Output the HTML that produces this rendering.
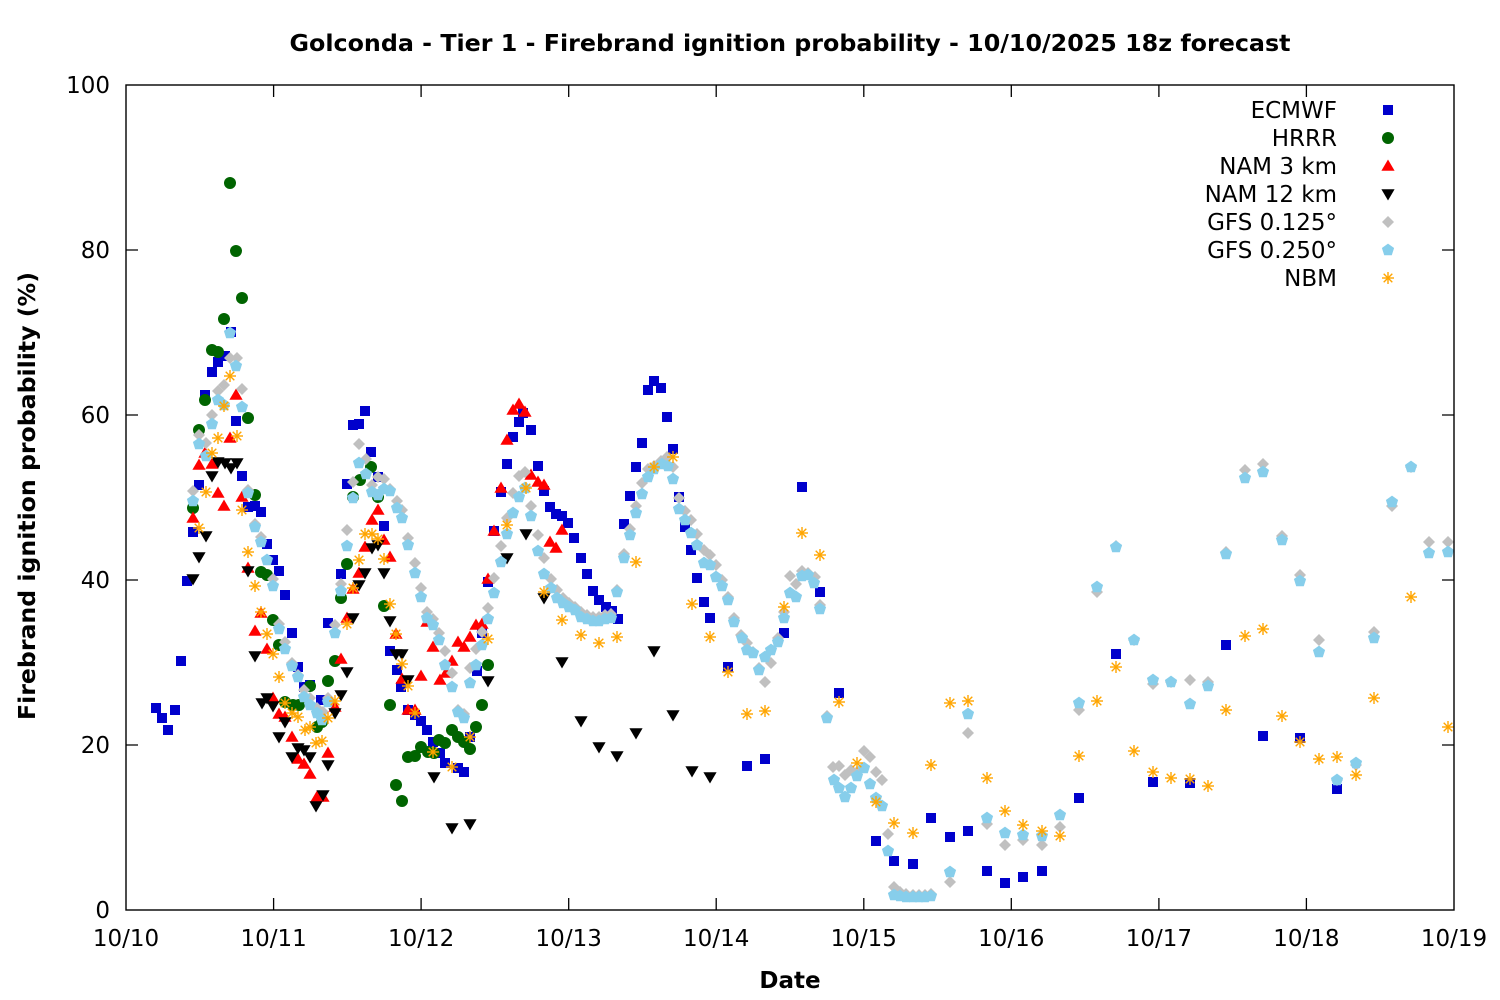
<!DOCTYPE html>
<html><head><meta charset="utf-8"><style>
html,body{margin:0;padding:0;background:#fff;}
svg{display:block;}
text{font-family:"DejaVu Sans","Liberation Sans",sans-serif;fill:#000;}
</style></head><body>
<svg width="1500" height="1000" viewBox="0 0 1500 1000" xmlns="http://www.w3.org/2000/svg">
<defs>
<rect id="e" x="-5" y="-5" width="10" height="10" fill="#0000cc"/>
<circle id="h" r="6" fill="#006400"/>
<polygon id="n" points="0,-6.5 6.6,4.8 -6.6,4.8" fill="#ff0000"/>
<polygon id="k" points="-6.6,-4.8 6.6,-4.8 0,6.5" fill="#000000"/>
<polygon id="g" points="0,-6 6,0 0,6 -6,0" fill="#c0c0c0"/>
<polygon id="s" points="0,-6.4 6.1,-2 3.8,5.2 -3.8,5.2 -6.1,-2" fill="#87ceeb"/>
<g id="b" stroke="#ffa500" stroke-width="1.4"><line x1="-6" y1="0" x2="6" y2="0"/><line x1="0" y1="-6" x2="0" y2="6"/><line x1="-4.3" y1="-4.3" x2="4.3" y2="4.3"/><line x1="-4.3" y1="4.3" x2="4.3" y2="-4.3"/></g>
</defs>
<rect width="1500" height="1000" fill="#fff"/>

<text x="790" y="51" font-size="23" font-weight="bold" text-anchor="middle" textLength="1001" lengthAdjust="spacingAndGlyphs">Golconda - Tier 1 - Firebrand ignition probability - 10/10/2025 18z forecast</text>
<text transform="translate(35,496) rotate(-90)" font-size="23" font-weight="bold" text-anchor="middle" textLength="448" lengthAdjust="spacingAndGlyphs">Firebrand ignition probability (%)</text>
<text x="790" y="988" font-size="23" font-weight="bold" text-anchor="middle">Date</text>

<g font-size="23" text-anchor="end">
<text x="110" y="918">0</text>
<text x="110" y="753">20</text>
<text x="110" y="588">40</text>
<text x="110" y="423">60</text>
<text x="110" y="258">80</text>
<text x="110" y="93">100</text>
</g>
<g font-size="23" text-anchor="middle">
<text x="126" y="946">10/10</text>
<text x="273.6" y="946">10/11</text>
<text x="421.1" y="946">10/12</text>
<text x="568.7" y="946">10/13</text>
<text x="716.2" y="946">10/14</text>
<text x="863.8" y="946">10/15</text>
<text x="1011.3" y="946">10/16</text>
<text x="1158.9" y="946">10/17</text>
<text x="1306.4" y="946">10/18</text>
<text x="1454" y="946">10/19</text>
</g>

<g stroke="#000" stroke-width="1.3" fill="none">
<path d="M126,250h12M126,415h12M126,580h12M126,745h12M1454,250h-12M1454,415h-12M1454,580h-12M1454,745h-12"/>
<path d="M273.6,910v-12M421.1,910v-12M568.7,910v-12M716.2,910v-12M863.8,910v-12M1011.3,910v-12M1158.9,910v-12M1306.4,910v-12"/>
<path d="M273.6,85v12M421.1,85v12M568.7,85v12M716.2,85v12M863.8,85v12M1011.3,85v12M1158.9,85v12M1306.4,85v12"/>
</g>

<!-- ECMWF -->
<g>
<use href="#e" x="156" y="708"/><use href="#e" x="162" y="718"/><use href="#e" x="168" y="730"/><use href="#e" x="175" y="710"/><use href="#e" x="181" y="661"/><use href="#e" x="187" y="581"/><use href="#e" x="193" y="532"/><use href="#e" x="199" y="485"/><use href="#e" x="205" y="395"/><use href="#e" x="212" y="372"/><use href="#e" x="218" y="362"/><use href="#e" x="225" y="356"/><use href="#e" x="231" y="332"/><use href="#e" x="236" y="421"/><use href="#e" x="242" y="476"/><use href="#e" x="248" y="507"/><use href="#e" x="255" y="506"/><use href="#e" x="261" y="512"/><use href="#e" x="267" y="544"/><use href="#e" x="273" y="560"/><use href="#e" x="279" y="571"/><use href="#e" x="285" y="595"/><use href="#e" x="292" y="633"/><use href="#e" x="298" y="667"/><use href="#e" x="304" y="687"/><use href="#e" x="310" y="685"/><use href="#e" x="321" y="700"/><use href="#e" x="328" y="623"/><use href="#e" x="341" y="574"/><use href="#e" x="347" y="484"/><use href="#e" x="353" y="425"/><use href="#e" x="359" y="424"/><use href="#e" x="365" y="411"/><use href="#e" x="371" y="452"/><use href="#e" x="378" y="477"/><use href="#e" x="384" y="526"/><use href="#e" x="390" y="651"/><use href="#e" x="397" y="670"/><use href="#e" x="401" y="687"/><use href="#e" x="408" y="710"/><use href="#e" x="415" y="715"/><use href="#e" x="421" y="721"/><use href="#e" x="427" y="730"/><use href="#e" x="433" y="742"/><use href="#e" x="440" y="753"/><use href="#e" x="445" y="763"/><use href="#e" x="458" y="768"/><use href="#e" x="464" y="772"/><use href="#e" x="470" y="737"/><use href="#e" x="477" y="671"/><use href="#e" x="482" y="633"/><use href="#e" x="488" y="582"/><use href="#e" x="494" y="531"/><use href="#e" x="501" y="492"/><use href="#e" x="507" y="464"/><use href="#e" x="513" y="437"/><use href="#e" x="519" y="422"/><use href="#e" x="523" y="413"/><use href="#e" x="531" y="430"/><use href="#e" x="538" y="466"/><use href="#e" x="544" y="491"/><use href="#e" x="550" y="507"/><use href="#e" x="556" y="514"/><use href="#e" x="562" y="516"/><use href="#e" x="568" y="523"/><use href="#e" x="574" y="538"/><use href="#e" x="581" y="558"/><use href="#e" x="587" y="574"/><use href="#e" x="593" y="591"/><use href="#e" x="599" y="600"/><use href="#e" x="606" y="607"/><use href="#e" x="612" y="611"/><use href="#e" x="618" y="619"/><use href="#e" x="624" y="524"/><use href="#e" x="630" y="496"/><use href="#e" x="636" y="467"/><use href="#e" x="642" y="443"/><use href="#e" x="648" y="390"/><use href="#e" x="654" y="381"/><use href="#e" x="661" y="388"/><use href="#e" x="667" y="417"/><use href="#e" x="673" y="449"/><use href="#e" x="679" y="497"/><use href="#e" x="685" y="527"/><use href="#e" x="691" y="550"/><use href="#e" x="697" y="578"/><use href="#e" x="704" y="602"/><use href="#e" x="710" y="618"/><use href="#e" x="728" y="667"/><use href="#e" x="747" y="766"/><use href="#e" x="765" y="759"/><use href="#e" x="784" y="633"/><use href="#e" x="802" y="487"/><use href="#e" x="820" y="592"/><use href="#e" x="839" y="693"/><use href="#e" x="876" y="841"/><use href="#e" x="894" y="861"/><use href="#e" x="913" y="864"/><use href="#e" x="931" y="818"/><use href="#e" x="950" y="837"/><use href="#e" x="968" y="831"/><use href="#e" x="987" y="871"/><use href="#e" x="1005" y="883"/><use href="#e" x="1023" y="877"/><use href="#e" x="1042" y="871"/><use href="#e" x="1079" y="798"/><use href="#e" x="1116" y="654"/><use href="#e" x="1153" y="782"/><use href="#e" x="1190" y="783"/><use href="#e" x="1226" y="645"/><use href="#e" x="1263" y="736"/><use href="#e" x="1300" y="738"/><use href="#e" x="1337" y="789"/>
</g>

<!-- HRRR -->
<g>
<use href="#h" x="193" y="508"/><use href="#h" x="199" y="430"/><use href="#h" x="205" y="400"/><use href="#h" x="212" y="350"/><use href="#h" x="218" y="352"/><use href="#h" x="224" y="319"/><use href="#h" x="230" y="183"/><use href="#h" x="236" y="251"/><use href="#h" x="242" y="298"/><use href="#h" x="248" y="418"/><use href="#h" x="255" y="495"/><use href="#h" x="261" y="572"/><use href="#h" x="267" y="575"/><use href="#h" x="273" y="620"/><use href="#h" x="279" y="645"/><use href="#h" x="285" y="702"/><use href="#h" x="293" y="705"/><use href="#h" x="299" y="705"/><use href="#h" x="310" y="686"/><use href="#h" x="317" y="727"/><use href="#h" x="322" y="722"/><use href="#h" x="328" y="681"/><use href="#h" x="335" y="661"/><use href="#h" x="341" y="598"/><use href="#h" x="347" y="564"/><use href="#h" x="353" y="497"/><use href="#h" x="360" y="480"/><use href="#h" x="371" y="467"/><use href="#h" x="378" y="497"/><use href="#h" x="384" y="606"/><use href="#h" x="390" y="705"/><use href="#h" x="396" y="785"/><use href="#h" x="402" y="801"/><use href="#h" x="408" y="757"/><use href="#h" x="415" y="756"/><use href="#h" x="421" y="747"/><use href="#h" x="428" y="752"/><use href="#h" x="434" y="753"/><use href="#h" x="439" y="740"/><use href="#h" x="445" y="743"/><use href="#h" x="452" y="730"/><use href="#h" x="458" y="737"/><use href="#h" x="464" y="742"/><use href="#h" x="470" y="749"/><use href="#h" x="476" y="727"/><use href="#h" x="482" y="705"/><use href="#h" x="488" y="665"/>
</g>

<!-- NAM 3 km -->
<g>
<use href="#n" x="193" y="518"/><use href="#n" x="199" y="465"/><use href="#n" x="205" y="453"/><use href="#n" x="212" y="464"/><use href="#n" x="218" y="493"/><use href="#n" x="224" y="506"/><use href="#n" x="230" y="438"/><use href="#n" x="236" y="395"/><use href="#n" x="242" y="497"/><use href="#n" x="248" y="568"/><use href="#n" x="255" y="631"/><use href="#n" x="261" y="613"/><use href="#n" x="267" y="649"/><use href="#n" x="273" y="698"/><use href="#n" x="279" y="714"/><use href="#n" x="285" y="717"/><use href="#n" x="292" y="737"/><use href="#n" x="298" y="759"/><use href="#n" x="304" y="764"/><use href="#n" x="310" y="774"/><use href="#n" x="317" y="797"/><use href="#n" x="323" y="797"/><use href="#n" x="328" y="753"/><use href="#n" x="335" y="707"/><use href="#n" x="341" y="659"/><use href="#n" x="347" y="618"/><use href="#n" x="353" y="589"/><use href="#n" x="359" y="573"/><use href="#n" x="365" y="547"/><use href="#n" x="372" y="520"/><use href="#n" x="378" y="510"/><use href="#n" x="384" y="540"/><use href="#n" x="390" y="557"/><use href="#n" x="396" y="634"/><use href="#n" x="402" y="679"/><use href="#n" x="408" y="710"/><use href="#n" x="415" y="710"/><use href="#n" x="421" y="676"/><use href="#n" x="427" y="622"/><use href="#n" x="433" y="647"/><use href="#n" x="440" y="680"/><use href="#n" x="446" y="673"/><use href="#n" x="452" y="661"/><use href="#n" x="458" y="642"/><use href="#n" x="464" y="647"/><use href="#n" x="470" y="637"/><use href="#n" x="476" y="625"/><use href="#n" x="482" y="624"/><use href="#n" x="488" y="579"/><use href="#n" x="494" y="531"/><use href="#n" x="501" y="488"/><use href="#n" x="507" y="440"/><use href="#n" x="513" y="410"/><use href="#n" x="519" y="404"/><use href="#n" x="525" y="412"/><use href="#n" x="531" y="475"/><use href="#n" x="538" y="482"/><use href="#n" x="544" y="485"/><use href="#n" x="550" y="542"/><use href="#n" x="556" y="548"/><use href="#n" x="562" y="530"/>
</g>

<!-- NAM 12 km -->
<g>
<use href="#k" x="193" y="579"/><use href="#k" x="199" y="557"/><use href="#k" x="206" y="536"/><use href="#k" x="212" y="476"/><use href="#k" x="218" y="462"/><use href="#k" x="225" y="463"/><use href="#k" x="231" y="468"/><use href="#k" x="237" y="463"/><use href="#k" x="248" y="571"/><use href="#k" x="255" y="656"/><use href="#k" x="262" y="703"/><use href="#k" x="267" y="698"/><use href="#k" x="273" y="706"/><use href="#k" x="279" y="737"/><use href="#k" x="285" y="722"/><use href="#k" x="292" y="757"/><use href="#k" x="298" y="748"/><use href="#k" x="304" y="750"/><use href="#k" x="310" y="757"/><use href="#k" x="316" y="806"/><use href="#k" x="323" y="795"/><use href="#k" x="328" y="765"/><use href="#k" x="335" y="713"/><use href="#k" x="341" y="695"/><use href="#k" x="347" y="672"/><use href="#k" x="353" y="618"/><use href="#k" x="359" y="585"/><use href="#k" x="365" y="573"/><use href="#k" x="372" y="548"/><use href="#k" x="378" y="545"/><use href="#k" x="384" y="573"/><use href="#k" x="390" y="621"/><use href="#k" x="396" y="654"/><use href="#k" x="402" y="654"/><use href="#k" x="408" y="680"/><use href="#k" x="434" y="777"/><use href="#k" x="452" y="828"/><use href="#k" x="470" y="824"/><use href="#k" x="488" y="681"/><use href="#k" x="507" y="558"/><use href="#k" x="526" y="534"/><use href="#k" x="544" y="598"/><use href="#k" x="562" y="662"/><use href="#k" x="581" y="721"/><use href="#k" x="599" y="747"/><use href="#k" x="617" y="756"/><use href="#k" x="636" y="733"/><use href="#k" x="654" y="651"/><use href="#k" x="673" y="715"/><use href="#k" x="692" y="771"/><use href="#k" x="710" y="777"/>
</g>

<!-- GFS 0.125 -->
<g>
<use href="#g" x="193" y="491"/><use href="#g" x="199" y="435"/><use href="#g" x="206" y="443"/><use href="#g" x="212" y="415"/><use href="#g" x="218" y="391"/><use href="#g" x="224" y="385"/><use href="#g" x="230" y="358"/><use href="#g" x="237" y="358"/><use href="#g" x="242" y="389"/><use href="#g" x="248" y="490"/><use href="#g" x="255" y="524"/><use href="#g" x="261" y="537"/><use href="#g" x="273" y="579"/><use href="#g" x="279" y="624"/><use href="#g" x="285" y="642"/><use href="#g" x="292" y="663"/><use href="#g" x="298" y="675"/><use href="#g" x="304" y="690"/><use href="#g" x="310" y="698"/><use href="#g" x="317" y="708"/><use href="#g" x="323" y="712"/><use href="#g" x="328" y="698"/><use href="#g" x="335" y="625"/><use href="#g" x="341" y="584"/><use href="#g" x="347" y="530"/><use href="#g" x="353" y="482"/><use href="#g" x="359" y="444"/><use href="#g" x="366" y="459"/><use href="#g" x="372" y="485"/><use href="#g" x="378" y="477"/><use href="#g" x="384" y="479"/><use href="#g" x="390" y="489"/><use href="#g" x="397" y="501"/><use href="#g" x="402" y="510"/><use href="#g" x="408" y="538"/><use href="#g" x="415" y="563"/><use href="#g" x="421" y="588"/><use href="#g" x="427" y="612"/><use href="#g" x="433" y="619"/><use href="#g" x="439" y="633"/><use href="#g" x="445" y="651"/><use href="#g" x="452" y="673"/><use href="#g" x="458" y="710"/><use href="#g" x="464" y="714"/><use href="#g" x="470" y="668"/><use href="#g" x="476" y="649"/><use href="#g" x="482" y="632"/><use href="#g" x="488" y="608"/><use href="#g" x="494" y="578"/><use href="#g" x="501" y="546"/><use href="#g" x="507" y="518"/><use href="#g" x="513" y="493"/><use href="#g" x="519" y="476"/><use href="#g" x="525" y="472"/><use href="#g" x="531" y="506"/><use href="#g" x="538" y="535"/><use href="#g" x="544" y="558"/><use href="#g" x="551" y="579"/><use href="#g" x="557" y="590"/><use href="#g" x="563" y="598"/><use href="#g" x="569" y="603"/><use href="#g" x="575" y="607"/><use href="#g" x="581" y="612"/><use href="#g" x="587" y="615"/><use href="#g" x="593" y="617"/><use href="#g" x="599" y="617"/><use href="#g" x="605" y="615"/><use href="#g" x="611" y="614"/><use href="#g" x="617" y="590"/><use href="#g" x="624" y="554"/><use href="#g" x="630" y="529"/><use href="#g" x="636" y="506"/><use href="#g" x="642" y="483"/><use href="#g" x="648" y="469"/><use href="#g" x="654" y="466"/><use href="#g" x="661" y="461"/><use href="#g" x="667" y="457"/><use href="#g" x="673" y="467"/><use href="#g" x="679" y="498"/><use href="#g" x="685" y="511"/><use href="#g" x="691" y="520"/><use href="#g" x="697" y="534"/><use href="#g" x="704" y="550"/><use href="#g" x="710" y="555"/><use href="#g" x="716" y="565"/><use href="#g" x="722" y="580"/><use href="#g" x="728" y="597"/><use href="#g" x="734" y="618"/><use href="#g" x="741" y="635"/><use href="#g" x="747" y="643"/><use href="#g" x="753" y="652"/><use href="#g" x="759" y="668"/><use href="#g" x="765" y="682"/><use href="#g" x="771" y="663"/><use href="#g" x="778" y="638"/><use href="#g" x="784" y="612"/><use href="#g" x="790" y="576"/><use href="#g" x="796" y="584"/><use href="#g" x="802" y="571"/><use href="#g" x="808" y="573"/><use href="#g" x="815" y="577"/><use href="#g" x="820" y="605"/><use href="#g" x="827" y="716"/><use href="#g" x="833" y="767"/><use href="#g" x="839" y="766"/><use href="#g" x="845" y="775"/><use href="#g" x="851" y="770"/><use href="#g" x="857" y="772"/><use href="#g" x="864" y="751"/><use href="#g" x="870" y="757"/><use href="#g" x="876" y="772"/><use href="#g" x="882" y="780"/><use href="#g" x="888" y="834"/><use href="#g" x="894" y="887"/><use href="#g" x="900" y="892"/><use href="#g" x="906" y="894"/><use href="#g" x="913" y="895"/><use href="#g" x="919" y="895"/><use href="#g" x="925" y="895"/><use href="#g" x="931" y="894"/><use href="#g" x="950" y="882"/><use href="#g" x="968" y="733"/><use href="#g" x="987" y="824"/><use href="#g" x="1005" y="845"/><use href="#g" x="1023" y="840"/><use href="#g" x="1042" y="845"/><use href="#g" x="1060" y="827"/><use href="#g" x="1079" y="710"/><use href="#g" x="1097" y="592"/><use href="#g" x="1116" y="546"/><use href="#g" x="1134" y="640"/><use href="#g" x="1153" y="684"/><use href="#g" x="1171" y="682"/><use href="#g" x="1190" y="680"/><use href="#g" x="1208" y="682"/><use href="#g" x="1226" y="552"/><use href="#g" x="1245" y="470"/><use href="#g" x="1263" y="464"/><use href="#g" x="1282" y="536"/><use href="#g" x="1300" y="575"/><use href="#g" x="1319" y="640"/><use href="#g" x="1337" y="780"/><use href="#g" x="1356" y="765"/><use href="#g" x="1374" y="632"/><use href="#g" x="1392" y="506"/><use href="#g" x="1411" y="467"/><use href="#g" x="1429" y="542"/><use href="#g" x="1448" y="542"/>
</g>

<!-- GFS 0.250 -->
<g>
<use href="#s" x="193" y="501"/><use href="#s" x="199" y="444"/><use href="#s" x="206" y="456"/><use href="#s" x="212" y="424"/><use href="#s" x="218" y="400"/><use href="#s" x="224" y="405"/><use href="#s" x="230" y="333"/><use href="#s" x="236" y="366"/><use href="#s" x="242" y="407"/><use href="#s" x="248" y="493"/><use href="#s" x="255" y="527"/><use href="#s" x="261" y="542"/><use href="#s" x="267" y="560"/><use href="#s" x="273" y="586"/><use href="#s" x="279" y="629"/><use href="#s" x="285" y="649"/><use href="#s" x="292" y="666"/><use href="#s" x="298" y="677"/><use href="#s" x="304" y="697"/><use href="#s" x="310" y="705"/><use href="#s" x="317" y="713"/><use href="#s" x="322" y="720"/><use href="#s" x="328" y="702"/><use href="#s" x="335" y="633"/><use href="#s" x="341" y="591"/><use href="#s" x="347" y="546"/><use href="#s" x="353" y="498"/><use href="#s" x="359" y="463"/><use href="#s" x="366" y="474"/><use href="#s" x="372" y="492"/><use href="#s" x="378" y="495"/><use href="#s" x="384" y="489"/><use href="#s" x="390" y="491"/><use href="#s" x="397" y="508"/><use href="#s" x="402" y="518"/><use href="#s" x="408" y="545"/><use href="#s" x="415" y="573"/><use href="#s" x="421" y="597"/><use href="#s" x="427" y="618"/><use href="#s" x="433" y="625"/><use href="#s" x="439" y="640"/><use href="#s" x="445" y="665"/><use href="#s" x="452" y="687"/><use href="#s" x="458" y="712"/><use href="#s" x="464" y="718"/><use href="#s" x="470" y="683"/><use href="#s" x="476" y="665"/><use href="#s" x="482" y="645"/><use href="#s" x="488" y="619"/><use href="#s" x="494" y="593"/><use href="#s" x="501" y="562"/><use href="#s" x="507" y="534"/><use href="#s" x="513" y="513"/><use href="#s" x="519" y="497"/><use href="#s" x="525" y="488"/><use href="#s" x="531" y="516"/><use href="#s" x="538" y="551"/><use href="#s" x="544" y="574"/><use href="#s" x="551" y="588"/><use href="#s" x="557" y="598"/><use href="#s" x="563" y="603"/><use href="#s" x="569" y="607"/><use href="#s" x="575" y="610"/><use href="#s" x="581" y="617"/><use href="#s" x="587" y="619"/><use href="#s" x="593" y="621"/><use href="#s" x="599" y="621"/><use href="#s" x="605" y="619"/><use href="#s" x="611" y="618"/><use href="#s" x="617" y="592"/><use href="#s" x="624" y="558"/><use href="#s" x="630" y="535"/><use href="#s" x="636" y="513"/><use href="#s" x="642" y="494"/><use href="#s" x="648" y="477"/><use href="#s" x="654" y="469"/><use href="#s" x="662" y="464"/><use href="#s" x="668" y="466"/><use href="#s" x="673" y="479"/><use href="#s" x="679" y="509"/><use href="#s" x="685" y="520"/><use href="#s" x="691" y="533"/><use href="#s" x="697" y="545"/><use href="#s" x="704" y="563"/><use href="#s" x="710" y="565"/><use href="#s" x="716" y="577"/><use href="#s" x="722" y="586"/><use href="#s" x="728" y="600"/><use href="#s" x="734" y="622"/><use href="#s" x="742" y="638"/><use href="#s" x="747" y="650"/><use href="#s" x="753" y="653"/><use href="#s" x="759" y="670"/><use href="#s" x="765" y="657"/><use href="#s" x="771" y="650"/><use href="#s" x="778" y="642"/><use href="#s" x="784" y="618"/><use href="#s" x="790" y="593"/><use href="#s" x="796" y="597"/><use href="#s" x="802" y="576"/><use href="#s" x="808" y="575"/><use href="#s" x="814" y="583"/><use href="#s" x="820" y="609"/><use href="#s" x="827" y="718"/><use href="#s" x="834" y="780"/><use href="#s" x="839" y="788"/><use href="#s" x="845" y="797"/><use href="#s" x="851" y="788"/><use href="#s" x="857" y="776"/><use href="#s" x="864" y="768"/><use href="#s" x="870" y="784"/><use href="#s" x="876" y="798"/><use href="#s" x="882" y="806"/><use href="#s" x="888" y="851"/><use href="#s" x="894" y="895"/><use href="#s" x="900" y="896"/><use href="#s" x="906" y="897"/><use href="#s" x="913" y="897"/><use href="#s" x="919" y="897"/><use href="#s" x="925" y="897"/><use href="#s" x="931" y="896"/><use href="#s" x="950" y="872"/><use href="#s" x="968" y="714"/><use href="#s" x="987" y="818"/><use href="#s" x="1005" y="833"/><use href="#s" x="1023" y="835"/><use href="#s" x="1042" y="836"/><use href="#s" x="1060" y="815"/><use href="#s" x="1079" y="703"/><use href="#s" x="1097" y="587"/><use href="#s" x="1116" y="547"/><use href="#s" x="1134" y="640"/><use href="#s" x="1153" y="680"/><use href="#s" x="1171" y="682"/><use href="#s" x="1190" y="704"/><use href="#s" x="1208" y="686"/><use href="#s" x="1226" y="554"/><use href="#s" x="1245" y="478"/><use href="#s" x="1263" y="472"/><use href="#s" x="1282" y="540"/><use href="#s" x="1300" y="581"/><use href="#s" x="1319" y="652"/><use href="#s" x="1337" y="780"/><use href="#s" x="1356" y="763"/><use href="#s" x="1374" y="638"/><use href="#s" x="1392" y="502"/><use href="#s" x="1411" y="467"/><use href="#s" x="1429" y="553"/><use href="#s" x="1448" y="552"/>
</g>

<!-- NBM -->
<g>
<use href="#b" x="199" y="528"/><use href="#b" x="206" y="492"/><use href="#b" x="212" y="453"/><use href="#b" x="218" y="438"/><use href="#b" x="224" y="406"/><use href="#b" x="230" y="376"/><use href="#b" x="237" y="436"/><use href="#b" x="242" y="510"/><use href="#b" x="248" y="552"/><use href="#b" x="255" y="586"/><use href="#b" x="261" y="612"/><use href="#b" x="267" y="634"/><use href="#b" x="273" y="654"/><use href="#b" x="279" y="677"/><use href="#b" x="285" y="703"/><use href="#b" x="292" y="713"/><use href="#b" x="298" y="717"/><use href="#b" x="305" y="730"/><use href="#b" x="310" y="727"/><use href="#b" x="316" y="743"/><use href="#b" x="322" y="741"/><use href="#b" x="328" y="718"/><use href="#b" x="335" y="701"/><use href="#b" x="347" y="624"/><use href="#b" x="353" y="588"/><use href="#b" x="359" y="560"/><use href="#b" x="365" y="534"/><use href="#b" x="372" y="534"/><use href="#b" x="378" y="539"/><use href="#b" x="384" y="559"/><use href="#b" x="390" y="604"/><use href="#b" x="396" y="634"/><use href="#b" x="402" y="664"/><use href="#b" x="408" y="686"/><use href="#b" x="415" y="713"/><use href="#b" x="433" y="752"/><use href="#b" x="452" y="767"/><use href="#b" x="470" y="737"/><use href="#b" x="488" y="639"/><use href="#b" x="507" y="525"/><use href="#b" x="526" y="488"/><use href="#b" x="544" y="592"/><use href="#b" x="562" y="620"/><use href="#b" x="581" y="635"/><use href="#b" x="599" y="643"/><use href="#b" x="617" y="637"/><use href="#b" x="636" y="562"/><use href="#b" x="654" y="467"/><use href="#b" x="673" y="457"/><use href="#b" x="692" y="604"/><use href="#b" x="710" y="637"/><use href="#b" x="728" y="672"/><use href="#b" x="747" y="714"/><use href="#b" x="765" y="711"/><use href="#b" x="784" y="607"/><use href="#b" x="802" y="533"/><use href="#b" x="820" y="555"/><use href="#b" x="839" y="702"/><use href="#b" x="857" y="763"/><use href="#b" x="876" y="802"/><use href="#b" x="894" y="823"/><use href="#b" x="913" y="833"/><use href="#b" x="931" y="765"/><use href="#b" x="950" y="703"/><use href="#b" x="968" y="701"/><use href="#b" x="987" y="778"/><use href="#b" x="1005" y="811"/><use href="#b" x="1023" y="825"/><use href="#b" x="1042" y="831"/><use href="#b" x="1060" y="836"/><use href="#b" x="1079" y="756"/><use href="#b" x="1097" y="701"/><use href="#b" x="1116" y="667"/><use href="#b" x="1134" y="751"/><use href="#b" x="1153" y="772"/><use href="#b" x="1171" y="778"/><use href="#b" x="1190" y="779"/><use href="#b" x="1208" y="786"/><use href="#b" x="1226" y="710"/><use href="#b" x="1245" y="636"/><use href="#b" x="1263" y="629"/><use href="#b" x="1282" y="716"/><use href="#b" x="1300" y="742"/><use href="#b" x="1319" y="759"/><use href="#b" x="1337" y="757"/><use href="#b" x="1356" y="775"/><use href="#b" x="1374" y="698"/><use href="#b" x="1411" y="597"/><use href="#b" x="1448" y="727"/>
</g>

<!-- Legend -->
<g font-size="23" text-anchor="end">
<text x="1337" y="118">ECMWF</text>
<text x="1337" y="146">HRRR</text>
<text x="1337" y="174">NAM 3 km</text>
<text x="1337" y="202">NAM 12 km</text>
<text x="1337" y="230">GFS 0.125°</text>
<text x="1337" y="258">GFS 0.250°</text>
<text x="1337" y="286">NBM</text>
</g>
<use href="#e" x="1388" y="110"/>
<use href="#h" x="1388" y="138"/>
<use href="#n" x="1388" y="166"/>
<use href="#k" x="1388" y="194"/>
<use href="#g" x="1388" y="222"/>
<use href="#s" x="1388" y="250"/>
<use href="#b" x="1388" y="278"/>

<rect x="126" y="85" width="1328" height="825" fill="none" stroke="#000" stroke-width="1.4"/>
</svg>
</body></html>
